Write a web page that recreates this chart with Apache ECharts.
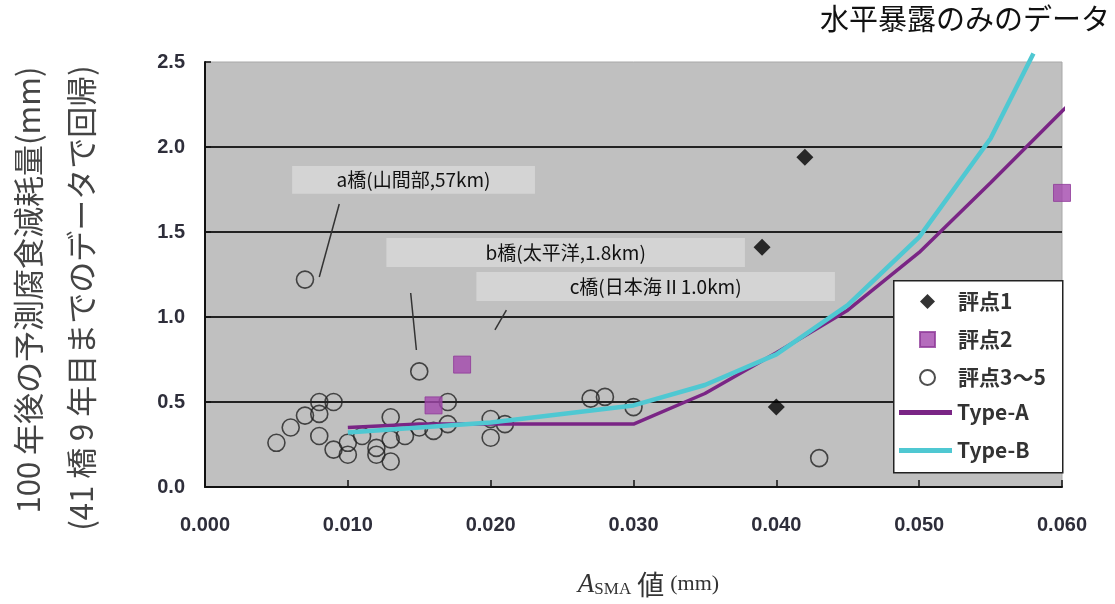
<!DOCTYPE html>
<html>
<head>
<meta charset="utf-8">
<script src="https://cdn.jsdelivr.net/npm/echarts@6/dist/echarts.min.js"></script>
<style>
html,body{margin:0;padding:0;background:#fff;}
#chart{width:1115px;height:604px;}
</style>
</head>
<body>
<div id="chart"></div>
<script>
// ---- data ----
const xTickLabels = ['0.000','0.010','0.020','0.030','0.040','0.050','0.060'];
const yTickLabels = ['0.0','0.5','1.0','1.5','2.0','2.5'];
const seriesNames = ['評点1','評点2','評点3〜5','Type-A','Type-B'];

const grade1 = [[0.042,1.94],[0.039,1.41],[0.040,0.47]];
const grade2 = [[0.016,0.48],[0.018,0.72],[0.060,1.73]];
const grade35 = [
  [0.005,0.26],[0.006,0.35],[0.007,0.42],[0.008,0.50],[0.009,0.50],
  [0.008,0.43],[0.008,0.30],[0.009,0.22],[0.010,0.26],[0.010,0.19],
  [0.011,0.30],[0.012,0.23],[0.012,0.19],[0.013,0.41],[0.013,0.28],
  [0.013,0.15],[0.014,0.30],[0.015,0.68],[0.015,0.35],[0.016,0.33],
  [0.017,0.50],[0.017,0.37],[0.020,0.40],[0.020,0.29],[0.021,0.37],
  [0.027,0.52],[0.028,0.53],[0.030,0.47],[0.007,1.22],[0.043,0.17]
];
const typeA = [[0.010,0.35],[0.015,0.37],[0.030,0.37],[0.035,0.55],[0.040,0.79],
  [0.045,1.04],[0.050,1.38],[0.055,1.79],[0.060,2.21],[0.061,2.29]];
const typeB = [[0.010,0.32],[0.015,0.35],[0.020,0.38],[0.025,0.43],[0.030,0.48],
  [0.035,0.60],[0.040,0.78],[0.045,1.07],[0.050,1.47],[0.055,2.05],[0.058,2.55]];

// annotation boxes (data coordinates) and leader lines
const annotLabels = ['a橋(山間部,57km)','b橋(太平洋,1.8km)','c橋(日本海Ⅱ1.0km)'];
const annotBoxX = [[0.0061,0.0231],[0.0127,0.0378],[0.0190,0.0441]];
const annotBoxY = [[1.725,1.888],[1.294,1.465],[1.094,1.265]];
const leaderFrom = [[0.0094,1.665],[0.0144,1.141],[0.0211,1.041]];
const leaderTo = [[0.0080,1.235],[0.0148,0.806],[0.0203,0.924]];

const CJK = '"Noto Sans CJK JP", sans-serif';
const NUM = '"Liberation Sans", Arial, sans-serif';

const chart = echarts.init(document.getElementById('chart'), null, {renderer:'canvas'});

const legendText = {fontSize:21, fontWeight:'bold', color:'#333', fontFamily:CJK};

const option = {
  backgroundColor:'#fff',
  animation:false,
  grid:{left:205, right:53, top:62, bottom:117, show:true, backgroundColor:'#c0c0c0', borderColor:'#a8a8a8', borderWidth:1},
  xAxis:{
    type:'value', min:0, max:0.06, interval:0.01,
    axisLine:{show:true, onZero:false, lineStyle:{color:'#111', width:2}},
    axisTick:{show:true, inside:true, length:7, lineStyle:{color:'#111', width:1.5}},
    splitLine:{show:false},
    axisLabel:{margin:28, fontSize:20, fontWeight:'bold', color:'#2e2e3a', fontFamily:NUM,
      formatter:(v)=>xTickLabels[Math.round(v/0.01)]},
    name:'{a|A}{s|SMA}{b| 値 }{c|(mm)}',
    nameLocation:'middle', nameGap:84,
    nameTextStyle:{padding:[0,0,0,30], rich:{
      a:{fontFamily:'"Liberation Serif", serif', fontStyle:'italic', fontSize:27, color:'#333'},
      s:{fontFamily:'"Liberation Serif", serif', fontSize:17, color:'#333', padding:[10,0,0,0]},
      b:{fontFamily:CJK, fontSize:27, color:'#333'},
      c:{fontFamily:'"Liberation Serif", serif', fontSize:22, color:'#333'}
    }}
  },
  yAxis:{
    type:'value', min:0, max:2.5, interval:0.5,
    axisLine:{show:true, lineStyle:{color:'#111', width:2}},
    axisTick:{show:true, inside:true, length:6, lineStyle:{color:'#111', width:1.5}},
    splitLine:{show:true, showMaxLine:false, lineStyle:{color:'#222', width:2}},
    axisLabel:{margin:20, fontSize:20, fontWeight:'bold', color:'#2e2e3a', fontFamily:NUM,
      formatter:(v)=>yTickLabels[Math.round(v/0.5)]}
  },
  legend:[
    {
      orient:'vertical', left:919, top:291, padding:0, z:11,
      itemGap:17, itemWidth:15, itemHeight:15,
      textStyle:Object.assign({padding:[0,0,0,18]}, legendText),
      data:seriesNames.slice(0,3)
    },
    {
      orient:'vertical', left:899, top:402, padding:0, z:11,
      itemGap:17, itemWidth:53, itemHeight:5,
      textStyle:legendText,
      data:seriesNames.slice(3).map(n=>({name:n, icon:'rect'}))
    }
  ],
  series:[
    {name:seriesNames[2], type:'scatter', data:grade35, symbol:'circle', symbolSize:17,
      itemStyle:{color:'rgba(0,0,0,0)', borderColor:'#222', borderWidth:1.6}, z:3,
      markArea:{silent:true,
        itemStyle:{color:'#d4d4d4', opacity:1},
        label:{show:true, position:'inside', color:'#111', fontSize:19, fontFamily:CJK},
        data:annotLabels.map((t,i)=>[
          {name:t, coord:[annotBoxX[i][0], annotBoxY[i][1]]},
          {coord:[annotBoxX[i][1], annotBoxY[i][0]]}
        ])
      },
      markLine:{silent:true, symbol:['none','none'], label:{show:false},
        lineStyle:{color:'#333', width:1.5, type:'solid'},
        data:leaderFrom.map((p,i)=>[{coord:p},{coord:leaderTo[i]}])
      }
    },
    {name:seriesNames[0], type:'scatter', data:grade1, symbol:'diamond', symbolSize:[17,17],
      itemStyle:{color:'#000'}, z:4},
    {name:seriesNames[1], type:'scatter', data:grade2, symbol:'rect', symbolSize:17,
      itemStyle:{color:'#a347ad', borderColor:'#8e3a99', borderWidth:1}, z:4},
    {name:seriesNames[3], type:'line', data:typeA, showSymbol:false, symbol:'none', clip:false,
      lineStyle:{color:'#7a2585', width:3.5}, itemStyle:{color:'#7a2585'}, z:5},
    {name:seriesNames[4], type:'line', data:typeB, showSymbol:false, symbol:'none', clip:false,
      lineStyle:{color:'#4fc8d2', width:4.5}, itemStyle:{color:'#4fc8d2'}, z:6}
  ],
  graphic:[
    {type:'rect', left:893, top:280, z:10,
      shape:{width:169, height:192}, style:{fill:'#fff', stroke:'#222', lineWidth:1.5}},
    {type:'text', right:5, top:4, style:{text:'水平暴露のみのデータ', fontSize:29, fill:'#111', fontFamily:CJK}},
    {type:'text', x:28, y:290, rotation:Math.PI/2,
      style:{text:'100 年後の予測腐食減耗量(mm)', fontSize:31, fill:'#444', fontFamily:CJK, align:'center', verticalAlign:'middle'}},
    {type:'text', x:81, y:298, rotation:Math.PI/2,
      style:{text:'(41 橋 9 年目までのデータで回帰)', fontSize:31, fill:'#444', fontFamily:CJK, align:'center', verticalAlign:'middle'}}
  ]
};
chart.setOption(option);
</script>
</body>
</html>
